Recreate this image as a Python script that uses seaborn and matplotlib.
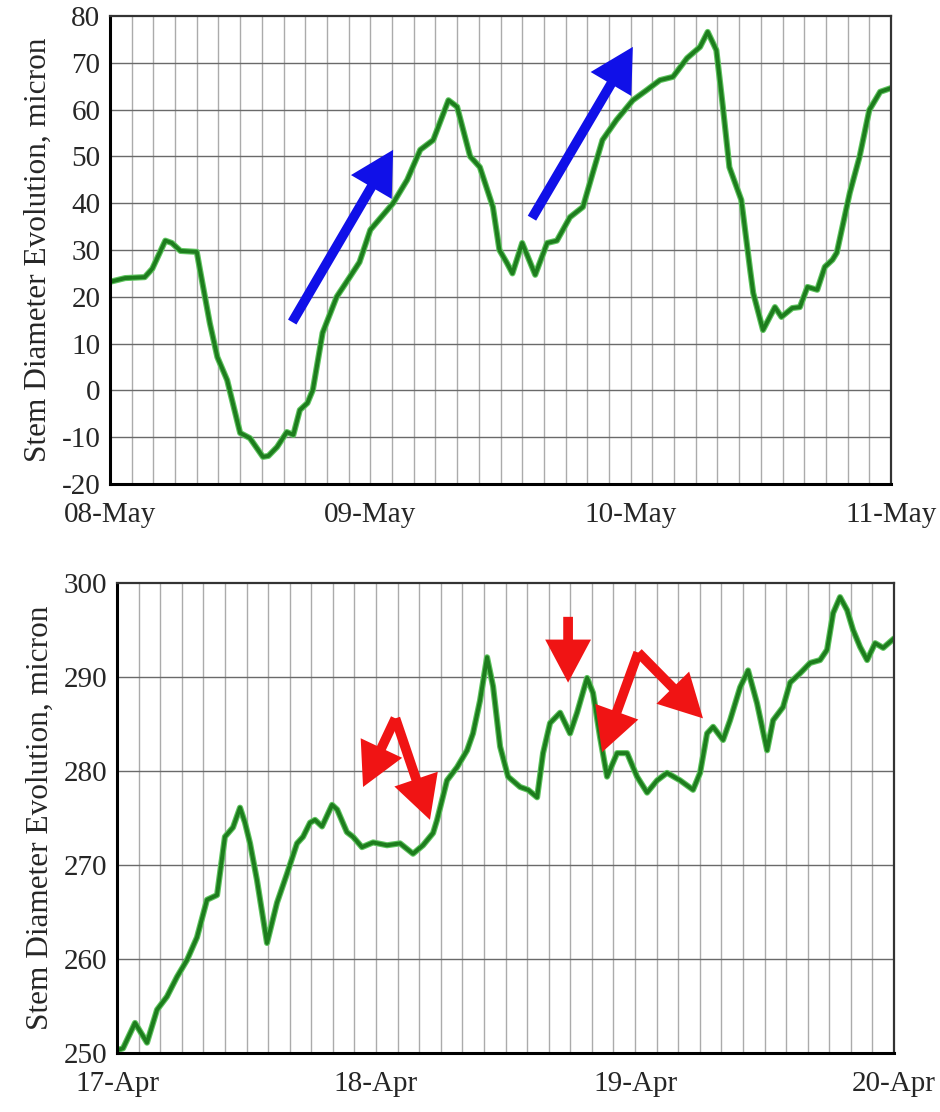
import matplotlib
matplotlib.use("Agg")
import matplotlib.pyplot as plt
import matplotlib.patheffects as pe
import numpy as np
import pandas as pd
import seaborn as sns
from matplotlib.ticker import MultipleLocator, FixedLocator

# ---------------- data (hours since first midnight, micron) ----------------
top_hours = [0, 1.4, 3.2, 3.9, 5.1, 5.7, 6.5, 8.0, 8.3, 9.2, 9.9, 10.8, 11.7, 12.0,
             12.9, 14.1, 14.6, 15.4, 16.3, 16.9, 17.5, 18.2, 18.7, 19.6, 20.9, 22.1,
             23.0, 24.0, 26.1, 27.4, 28.6, 29.8, 31.2, 32.0, 33.2, 34.1, 35.3, 35.9,
             36.6, 37.1, 38.0, 39.2, 40.3, 41.2, 42.4, 43.6, 44.5, 45.4, 46.7, 48.2,
             49.5, 50.7, 51.9, 53.2, 54.4, 55.1, 55.9, 56.5, 57.1, 58.2, 59.0, 59.3,
             60.2, 61.3, 61.9, 62.9, 63.6, 64.3, 65.2, 65.9, 66.6, 67.0, 68.2, 69.1,
             70.0, 71.0, 72.0]
top_values = [23.2, 24.0, 24.2, 26.0, 32.0, 31.5, 29.8, 29.6, 25.7, 14.4, 7.1, 2.2, -6.3,
              -9.1, -10.2, -14.2, -14.0, -12.1, -8.9, -9.5, -4.2, -2.7, 0.1, 12.3, 20.0,
              24.2, 27.4, 34.3, 40.0, 45.0, 51.4, 53.5, 62.0, 60.6, 50.0, 47.7, 39.2,
              30.0, 27.2, 25.0, 31.5, 24.7, 31.5, 32.0, 37.0, 39.2, 46.4, 53.5, 57.8,
              62.0, 64.2, 66.3, 67.0, 71.0, 73.4, 76.6, 72.7, 60.6, 47.7, 40.7, 26.0,
              20.8, 12.9, 17.8, 15.7, 17.6, 17.8, 22.1, 21.5, 26.4, 27.9, 29.4, 42.2,
              49.9, 59.9, 63.8, 64.6]
top_day_labels = ["08-May", "09-May", "10-May", "11-May"]

bottom_hours = [0, 0.56, 1.67, 2.78, 3.71, 4.63, 5.56, 6.49, 7.41, 8.34, 9.27, 10.0,
                10.75, 11.4, 11.86, 12.33, 12.97, 13.9, 14.83, 15.76, 16.68, 17.24,
                17.89, 18.35, 19.0, 19.93, 20.4, 21.3, 21.87, 22.7, 23.73, 25.02, 26.23,
                27.43, 28.36, 29.29, 29.66, 30.58, 31.51, 32.44, 32.99, 33.64, 34.29,
                34.85, 35.5, 36.24, 37.35, 38.09, 38.93, 39.48, 40.13, 41.06, 41.98,
                42.63, 43.56, 44.11, 44.76, 45.41, 46.34, 47.27, 48.19, 49.12, 50.05,
                50.97, 52.18, 53.38, 54.03, 54.68, 55.24, 56.16, 56.81, 57.74, 58.48,
                59.31, 60.24, 60.8, 61.72, 62.37, 63.3, 64.23, 65.15, 65.8, 66.36, 67.0,
                67.66, 68.21, 68.86, 69.51, 70.25, 71.0, 72.0]
bottom_values = [250.3, 250.5, 253.2, 251.1, 254.6, 256.0, 258.1, 259.9, 262.3, 266.3,
                 266.8, 273.0, 274.0, 276.1, 274.5, 272.3, 268.4, 261.7, 266.0, 269.1,
                 272.3, 273.0, 274.5, 274.8, 274.1, 276.4, 275.9, 273.5, 273.0, 271.9,
                 272.4, 272.1, 272.3, 271.2, 272.1, 273.4, 274.8, 279.0, 280.4, 282.2,
                 284.0, 287.5, 292.1, 289.0, 282.6, 279.4, 278.3, 278.0, 277.2, 281.9,
                 285.1, 286.2, 284.0, 286.2, 289.9, 288.3, 283.6, 279.4, 281.9, 281.9,
                 279.4, 277.7, 279.0, 279.8, 279.0, 278.0, 279.8, 284.0, 284.7, 283.3,
                 285.4, 288.9, 290.7, 287.2, 282.2, 285.4, 286.8, 289.4, 290.4, 291.5,
                 291.8, 292.9, 296.8, 298.5, 297.1, 295.0, 293.2, 291.8, 293.6, 293.1,
                 294.1]
bottom_day_labels = ["17-Apr", "18-Apr", "19-Apr", "20-Apr"]

y_label = "Stem Diameter Evolution, micron"

# annotation arrows: (tail, tip) in data coordinates
top_arrows = [((16.8, 14.6), (26.1, 51.4)),
              ((38.9, 36.8), (48.2, 73.4))]
bottom_arrows = [((25.8, 285.6), (22.8, 278.3)),
                 ((25.8, 285.6), (29.0, 274.8)),
                 ((41.8, 296.4), (41.8, 289.4)),
                 ((48.3, 292.6), (44.95, 282.0)),
                 ((48.3, 292.6), (54.3, 285.6))]

# ---------------- style ----------------
sns.set_style("white")
plt.rcParams["font.family"] = ["Liberation Serif", "DejaVu Serif"]
plt.rcParams["axes.unicode_minus"] = False

LINE_COLOR = "#1d7d1d"
HALO_COLOR = "#5fc45f"
FS = 21

fig = plt.figure(figsize=(9.4, 11.12), dpi=100)
ax_top = fig.add_axes([110 / 940, 1 - 484 / 1112, (891 - 110) / 940, (484 - 16) / 1112])
ax_bot = fig.add_axes([117 / 940, 1 - 1053 / 1112, (894 - 117) / 940, (1053 - 583) / 1112])


def style_axes(ax, ylim, day_labels):
    ax.set_xlim(0, 72)
    ax.set_ylim(*ylim)
    ax.xaxis.set_major_locator(FixedLocator([0, 24, 48, 72]))
    ax.set_xticklabels(day_labels)
    ax.xaxis.set_minor_locator(MultipleLocator(2))
    ax.yaxis.set_major_locator(MultipleLocator(10))
    ax.grid(False)
    for xv in np.arange(2, 72, 2):
        ax.axvline(xv, color="#ababab", lw=1.0, zorder=0.5)
    for yv in np.arange(ylim[0] + 10, ylim[1], 10):
        ax.axhline(yv, color="#6a6a6a", lw=1.0, zorder=0.6)
    ax.tick_params(axis="x", which="major", direction="out", length=5, width=1,
                   color="#555555", labelsize=FS, pad=8)
    ax.tick_params(axis="x", which="minor", direction="out", length=5, width=1,
                   color="#999999")
    ax.tick_params(axis="y", which="major", direction="out", length=4, width=1,
                   color="#555555", labelsize=FS, pad=3)
    for side, sp in ax.spines.items():
        sp.set_visible(True)
        sp.set_color("black" if side in ("left", "bottom") else "#333333")
        sp.set_linewidth(2.2 if side in ("left", "bottom") else 1.6)
        sp.set_zorder(3)
    ax.set_ylabel(y_label, fontsize=22.5, labelpad=6)
    ax.set_xlabel("")


df_top = pd.DataFrame({"hours": top_hours, "value": top_values})
df_bot = pd.DataFrame({"hours": bottom_hours, "value": bottom_values})

halo = [pe.Stroke(linewidth=4.4, foreground=HALO_COLOR), pe.Normal()]
for ax, df in ((ax_top, df_top), (ax_bot, df_bot)):
    sns.lineplot(data=df, x="hours", y="value", ax=ax, color=LINE_COLOR,
                 lw=2.8, zorder=2, path_effects=halo,
                 solid_joinstyle="round", solid_capstyle="round")

style_axes(ax_top, (-20, 80), top_day_labels)
style_axes(ax_bot, (250, 300), bottom_day_labels)

for tail, tip in top_arrows:
    ax_top.annotate("", xy=tip, xytext=tail,
                    arrowprops=dict(facecolor="#1010e8", edgecolor="none", width=7,
                                    headwidth=34, headlength=31, shrink=0),
                    zorder=4)
for tail, tip in bottom_arrows:
    ax_bot.annotate("", xy=tip, xytext=tail,
                    arrowprops=dict(facecolor="#f01414", edgecolor="none", width=7,
                                    headwidth=33, headlength=31, shrink=0),
                    zorder=4)

fig.savefig("out.png", dpi=100, facecolor="white")
